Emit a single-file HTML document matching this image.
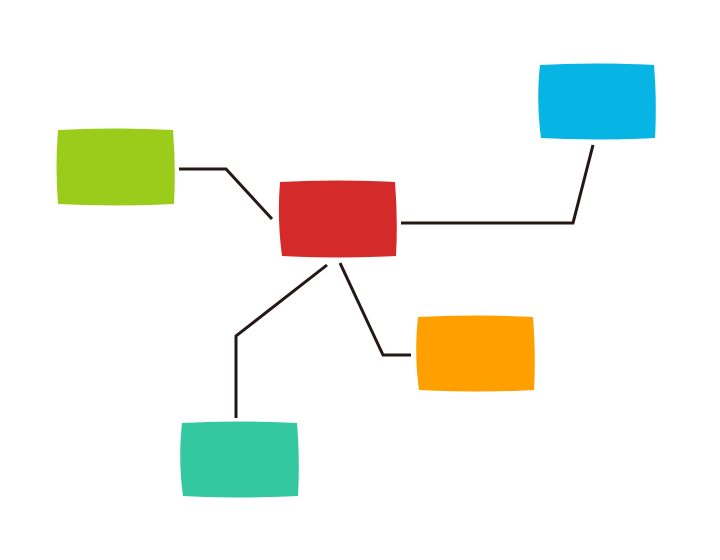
<!DOCTYPE html>
<html><head><meta charset="utf-8"><style>html,body{margin:0;padding:0;background:#fff}svg{display:block}</style></head>
<body>
<svg width="720" height="560" viewBox="0 0 720 560" xmlns="http://www.w3.org/2000/svg">
<g fill="none" stroke="#231815" stroke-width="3">
<polyline points="179,169 226,169 272,219"/>
<polyline points="401,223 573,223 593,145"/>
<polyline points="327,265 236,336 236,418"/>
<polyline points="340,263 383,355 411,355"/>
</g>
<g>
<path d="M58,130 Q115,127 173,130 Q176,167 174,204 Q115,207 58,204 Q55,167 58,130Z" fill="#9BCB1B"/>
<path d="M280,182 Q337,179 395,182 Q398,219 396,256 Q337,259 282,256 Q277,219 280,182Z" fill="#D42A2A"/>
<path d="M540,65 Q597,62 654,65 Q657,102 655,138 Q597,141 541,138 Q536,102 540,65Z" fill="#07B5E5"/>
<path d="M418,317 Q475,314 533,317 Q536,354 534,390 Q475,393 419,390 Q414,354 418,317Z" fill="#FFA000"/>
<path d="M182,423 Q239,420 297,423 Q300,460 298,496 Q239,499 183,496 Q178,460 182,423Z" fill="#33C8A0"/>
</g>
</svg>
</body></html>
